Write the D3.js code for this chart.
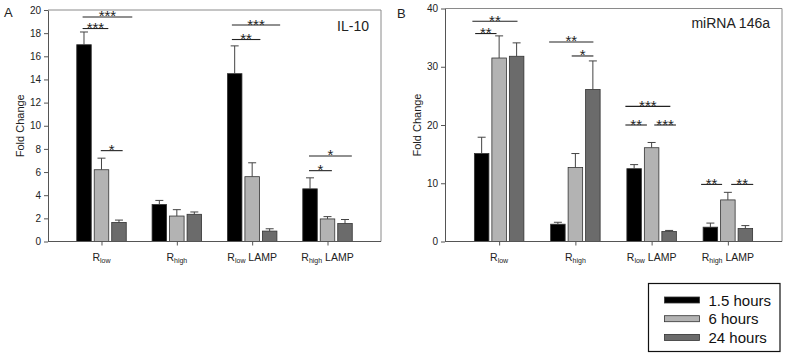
<!DOCTYPE html>
<html>
<head>
<meta charset="utf-8">
<script src="https://cdnjs.cloudflare.com/ajax/libs/d3/7.8.5/d3.min.js"></script>
<style>
    body { margin: 0; background: #fff; }
    svg { display: block; font-family: Arial, "Liberation Sans", sans-serif; }
</style>
</head>
<body>
<div id="viewport"></div>
<script>
// categories: R with subscript + optional suffix
const categorySubs = ["low", "high", "low", "high"];
const categorySuffix = ["", "", " LAMP", " LAMP"];
const seriesNames = ["1.5 hours", "6 hours", "24 hours"];
const seriesColors = ["#000000", "#b3b3b3", "#6b6b6b"];

// IL-10 (panel A): mean per category, per series
const il10Mean = [[17.0, 6.2, 1.65], [3.2, 2.2, 2.35], [14.5, 5.6, 0.9], [4.55, 1.95, 1.55]];
const il10Err = [[1.1, 1.0, 0.2], [0.35, 0.55, 0.2], [2.4, 1.2, 0.2], [0.95, 0.2, 0.35]];
const il10Ticks = [0, 2, 4, 6, 8, 10, 12, 14, 16, 18, 20];

// miRNA 146a (panel B)
const mirMean = [[15.1, 31.5, 31.8], [2.97, 12.7, 26.1], [12.5, 16.1, 1.7], [2.46, 7.14, 2.23]];
const mirErr = [[2.8, 3.8, 2.3], [0.33, 2.4, 4.9], [0.7, 0.9, 0.2], [0.7, 1.3, 0.5]];
const mirTicks = [0, 10, 20, 30, 40];

// significance bars: [category, from bar slot, to bar slot, y value, stars]
const il10Sig = [
    [0, -0.08, 2.76, 19.4, "***"],
    [0, -0.08, 1.39, 18.4, "***"],
    [0, 0.96, 2.21, 7.85, "*"],
    [2, -0.16, 2.6, 18.7, "***"],
    [2, -0.16, 1.47, 17.45, "**"],
    [3, -0.06, 2.39, 7.39, "*"],
    [3, -0.06, 1.25, 6.12, "*"]
];
const mirSig = [
    [0, -0.53, 2.05, 37.8, "**"],
    [0, -0.37, 0.85, 35.7, "**"],
    [1, -0.5, 2.03, 34.25, "**"],
    [1, 0.79, 2.03, 31.85, "*"],
    [2, -0.5, 2.07, 23.2, "***"],
    [2, -0.5, 0.73, 20.0, "**"],
    [2, 1.15, 2.39, 20.0, "***"],
    [3, -0.53, 0.67, 9.8, "**"],
    [3, 1.19, 2.45, 9.8, "**"]
];

const svg = d3.select("#viewport").append("svg")
    .attr("width", 787)
    .attr("height", 358);

function drawPanel(cfg) {
    const g = svg.append("g");
    const catIdx = d3.range(categorySubs.length);

    const x = d3.scalePoint().domain(catIdx).range([cfg.left, cfg.right]).padding(0.71);
    const y = d3.scaleLinear().domain([0, cfg.max]).range([cfg.bottom, cfg.top]);
    const x1 = d3.scaleBand().domain([0, 1, 2]).range([-24.75, 24.75]).paddingInner(0.17);
    const bw = x1.bandwidth();
    const slot = d3.scaleLinear().domain([0, 2]).range([x1(0) + bw / 2, x1(2) + bw / 2]);

    // frame (top + right)
    g.append("path")
        .attr("d", `M${cfg.left},${cfg.top}H${cfg.right}V${cfg.bottom}`)
        .attr("fill", "none").attr("stroke", "#8a8a8a").attr("stroke-width", 1);

    // bars
    const groups = g.selectAll(".grp").data(catIdx).join("g")
        .attr("transform", (c) => `translate(${x(c)},0)`);
    groups.selectAll("rect").data((c) => cfg.mean[c].map((v, s) => ({ v, s, e: cfg.err[c][s] })))
        .join("rect")
        .attr("x", (d) => x1(d.s))
        .attr("width", bw)
        .attr("y", (d) => y(d.v))
        .attr("height", (d) => y(0) - y(d.v))
        .attr("fill", (d) => seriesColors[d.s])
        .attr("stroke", "#333").attr("stroke-width", 0.8);

    // error bars (upper only)
    groups.selectAll(".err").data((c) => cfg.mean[c].map((v, s) => ({ v, s, e: cfg.err[c][s] })))
        .join("path")
        .attr("class", "err")
        .attr("d", (d) => {
            const cx = x1(d.s) + bw / 2;
            return `M${cx},${y(d.v)}V${y(d.v + d.e)}M${cx - 4},${y(d.v + d.e)}H${cx + 4}`;
        })
        .attr("fill", "none").attr("stroke", "#444").attr("stroke-width", 1);

    // axes
    const yAxis = d3.axisLeft(y).tickValues(cfg.ticks).tickSize(4).tickPadding(3).tickSizeOuter(0);
    const ya = g.append("g").attr("transform", `translate(${cfg.left},0)`).call(yAxis);
    ya.select(".domain").attr("stroke", "#555");
    ya.selectAll(".tick line").attr("stroke", "#555");
    ya.selectAll("text").attr("font-size", 10).attr("fill", "#222")
        .attr("font-family", "Arial, 'Liberation Sans', sans-serif");

    const xAxis = d3.axisBottom(x).tickSize(4).tickSizeOuter(0).tickFormat("");
    const xa = g.append("g").attr("transform", `translate(0,${cfg.bottom})`).call(xAxis);
    xa.select(".domain").attr("stroke", "#555").attr("d", `M${cfg.left},0H${cfg.right}`);
    xa.selectAll(".tick line").attr("stroke", "#555");

    // category labels with subscripts
    const lab = g.selectAll(".cat").data(catIdx).join("text")
        .attr("class", "cat")
        .attr("x", (c) => x(c))
        .attr("y", cfg.bottom + 19)
        .attr("text-anchor", "middle")
        .attr("font-size", 10.5)
        .attr("fill", "#222");
    lab.append("tspan").text("R");
    lab.append("tspan").attr("font-size", 7).attr("dy", 2).text((c) => categorySubs[c]);
    lab.append("tspan").attr("dy", -2).text((c) => categorySuffix[c]);

    // y title
    g.append("text")
        .attr("transform", `translate(${cfg.titleX},${(cfg.top + cfg.bottom) / 2}) rotate(-90)`)
        .attr("text-anchor", "middle")
        .attr("font-size", 11)
        .attr("fill", "#222")
        .text("Fold Change");

    // panel letter + name
    g.append("text").attr("x", cfg.letterX).attr("y", cfg.letterY)
        .attr("font-size", 13).attr("fill", "#222").text(cfg.letter);
    g.append("text").attr("x", cfg.right - 12).attr("y", cfg.nameY)
        .attr("text-anchor", "end").attr("font-size", 14).attr("fill", "#222").text(cfg.name);

    // significance
    const sig = g.selectAll(".sig").data(cfg.sig).join("g").attr("class", "sig");
    sig.append("line")
        .attr("x1", (d) => x(d[0]) + slot(d[1]))
        .attr("x2", (d) => x(d[0]) + slot(d[2]))
        .attr("y1", (d) => y(d[3]))
        .attr("y2", (d) => y(d[3]))
        .attr("stroke", "#222").attr("stroke-width", 1.1);
    sig.append("text")
        .attr("x", (d) => x(d[0]) + (slot(d[1]) + slot(d[2])) / 2)
        .attr("y", (d) => y(d[3]) + 4.5)
        .attr("text-anchor", "middle")
        .attr("font-size", 15)
        .attr("fill", "#222")
        .text((d) => d[4]);
}

drawPanel({
    left: 48, right: 381, top: 10, bottom: 241.5, max: 20,
    mean: il10Mean, err: il10Err, ticks: il10Ticks, sig: il10Sig,
    titleX: 24, letter: "A", letterX: 4, letterY: 17, name: "IL-10", nameY: 31
});
drawPanel({
    left: 445, right: 782, top: 8.5, bottom: 241.5, max: 40,
    mean: mirMean, err: mirErr, ticks: mirTicks, sig: mirSig,
    titleX: 421, letter: "B", letterX: 397, letterY: 18, name: "miRNA 146a", nameY: 28
});

// legend
const legend = svg.append("g").attr("transform", "translate(648.5,283.5)");
legend.append("rect")
    .attr("width", 131.5).attr("height", 68)
    .attr("fill", "#fff").attr("stroke", "#111").attr("stroke-width", 1.2);
const rows = legend.selectAll(".row").data(seriesNames).join("g")
    .attr("transform", (d, i) => `translate(0,${16.5 + i * 18.7})`);
rows.append("rect")
    .attr("x", 16).attr("y", -3).attr("width", 35).attr("height", 6)
    .attr("fill", (d, i) => seriesColors[i]).attr("stroke", "#333").attr("stroke-width", 0.8);
rows.append("text")
    .attr("x", 60).attr("y", 5.5)
    .attr("font-size", 15).attr("fill", "#111")
    .text((d) => d);
</script>
</body>
</html>
